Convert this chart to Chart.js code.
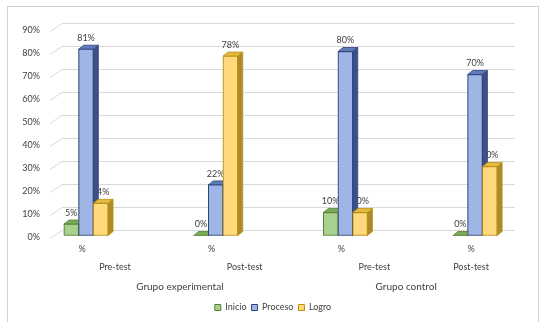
<!DOCTYPE html>
<html>
<head>
<meta charset="utf-8">
<script src="https://cdn.jsdelivr.net/npm/chart.js@4.4.1/dist/chart.umd.min.js"></script>
<style>
  html, body { margin: 0; padding: 0; background: #fff; }
</style>
</head>
<body>
<canvas id="grupochart" width="544" height="322"></canvas>
<script>
// data
var categories = ['Pre-test', 'Post-test', 'Pre-test', 'Post-test'];
var groupNames = ['Grupo experimental', 'Grupo control'];
var unitLabel = '%';
var seriesNames = ['Inicio', 'Proceso', 'Logro'];
var inicio = [5, 0, 10, 0];
var proceso = [81, 22, 80, 70];
var logro = [14, 78, 10, 30];
var yMax = 90;
var yStep = 10;

var textColor = '#404040';
var fontFamily = 'Lato, "Open Sans", sans-serif';

// front / side / top / edge colours for the fake 3D look
var faces = [
  { front: '#a9d18e', side: '#5f8f40', top: '#78a957', edge: '#548235' },
  { front: '#9fb5e5', side: '#3e5089', top: '#6179bd', edge: '#2f4279' },
  { front: '#ffd97c', side: '#ad8a2c', top: '#e5b840', edge: '#b8900f' }
];

var toPoints = function(vals) {
  return vals.map(function(v, i) { return { x: i, y: v }; });
};

// Excel-like outer frame
var framePlugin = {
  id: 'frame',
  beforeDraw: function(chart) {
    var ctx = chart.ctx;
    ctx.save();
    ctx.fillStyle = '#fff';
    ctx.fillRect(0, 0, chart.width, chart.height);
    ctx.strokeStyle = '#d0d0d0';
    ctx.lineWidth = 1;
    ctx.strokeRect(7.5, 6.5, 531, 330);
    ctx.restore();
  }
};

// gridlines on the back wall plus the side wall diagonals
var wallPlugin = {
  id: 'wall',
  beforeDatasetsDraw: function(chart) {
    var ctx = chart.ctx, ys = chart.scales.y, a = chart.chartArea;
    ctx.save();
    ctx.strokeStyle = '#d9d9d9';
    ctx.lineWidth = 1;
    ys.ticks.forEach(function(t) {
      var y = Math.round(ys.getPixelForValue(t.value)) + 0.5;
      ctx.beginPath();
      ctx.moveTo(a.left, y + 2);
      ctx.lineTo(a.left + 12, y - 6);
      ctx.lineTo(a.right, y - 6);
      ctx.stroke();
    });
    ctx.restore();
  }
};

// value labels, then side/top faces, bars painted left to right
var bars3dPlugin = {
  id: 'bars3d',
  afterDatasetsDraw: function(chart) {
    var ctx = chart.ctx;
    var dx = 5, dy = 4;
    var nsets = chart.data.datasets.length;

    ctx.save();
    ctx.font = '9px ' + fontFamily;
    ctx.fillStyle = textColor;
    ctx.textAlign = 'center';
    ctx.textBaseline = 'middle';
    chart.data.datasets.forEach(function(ds, d) {
      chart.getDatasetMeta(d).data.forEach(function(bar, i) {
        ctx.fillText(ds.data[i].y + '%', bar.x, bar.y - 11);
      });
    });
    ctx.restore();

    ctx.save();
    ctx.lineWidth = 0.8;
    for (var i = 0; i < categories.length; i++) {
      for (var d = 0; d < nsets; d++) {
        var bar = chart.getDatasetMeta(d).data[i];
        var p = bar.getProps(['x', 'y', 'base', 'width'], true);
        var l = p.x - p.width / 2, r = p.x + p.width / 2;
        var f = faces[d];
        // side
        ctx.beginPath();
        ctx.moveTo(r, p.y);
        ctx.lineTo(r + dx, p.y - dy);
        ctx.lineTo(r + dx, p.base - dy);
        ctx.lineTo(r, p.base);
        ctx.closePath();
        ctx.fillStyle = f.side;
        ctx.strokeStyle = f.edge;
        ctx.fill();
        ctx.stroke();
        // top
        ctx.beginPath();
        ctx.moveTo(l, p.y);
        ctx.lineTo(l + dx, p.y - dy);
        ctx.lineTo(r + dx, p.y - dy);
        ctx.lineTo(r, p.y);
        ctx.closePath();
        ctx.fillStyle = f.top;
        ctx.fill();
        ctx.stroke();
        // front again so it hides the left neighbour's side
        if (p.base - p.y > 0.5) bar.draw(ctx);
      }
    }
    ctx.restore();
  }
};

// three level category axis: "%", test, group
var axisLabelsPlugin = {
  id: 'axisLabels',
  afterDraw: function(chart) {
    var ctx = chart.ctx, xs = chart.scales.x, a = chart.chartArea;
    var subShift = [29, 29, 29, -4];
    var groupShift = [29, -4];
    ctx.save();
    ctx.fillStyle = textColor;
    ctx.textAlign = 'center';
    ctx.textBaseline = 'middle';
    ctx.font = '9px ' + fontFamily;
    categories.forEach(function(c, i) {
      var x = xs.getPixelForValue(i);
      ctx.fillText(unitLabel, x - 4, a.bottom + 14);
      ctx.fillText(c, x + subShift[i], a.bottom + 32);
    });
    ctx.font = '10px ' + fontFamily;
    groupNames.forEach(function(g, k) {
      var x = (xs.getPixelForValue(k * 2) + xs.getPixelForValue(k * 2 + 1)) / 2;
      ctx.fillText(g, x + groupShift[k], a.bottom + 51);
    });
    ctx.restore();
  }
};

var datasets = [inicio, proceso, logro].map(function(vals, d) {
  return {
    label: seriesNames[d],
    data: toPoints(vals),
    backgroundColor: faces[d].front,
    borderColor: faces[d].edge,
    borderWidth: 1,
    borderSkipped: false,
    barThickness: 14.7
  };
});

var ctx = document.getElementById('grupochart').getContext('2d');
var grupochart = new Chart(ctx, {
  type: 'bar',
  data: { datasets: datasets },
  plugins: [framePlugin, wallPlugin, bars3dPlugin, axisLabelsPlugin],
  options: {
    responsive: false,
    animation: false,
    layout: { padding: { top: 28.5, right: 0, bottom: 0, left: 2 } },
    scales: {
      x: {
        type: 'linear',
        bounds: 'data',
        offset: false,
        min: -0.2776,
        max: 3.308,
        grid: { display: false, drawTicks: false },
        border: { display: false },
        ticks: { display: false },
        afterFit: function(s) { s.height = 62.5; }
      },
      y: {
        min: 0,
        max: yMax,
        grid: { display: false, drawTicks: false },
        border: { display: false },
        ticks: {
          stepSize: yStep,
          padding: 10,
          labelOffset: 2,
          color: textColor,
          font: { family: fontFamily, size: 9 },
          callback: function(v) { return v + '%'; }
        },
        afterFit: function(s) { s.width = 48; }
      },
      // empty right-hand box so the legend stays centred on the whole frame
      yRight: {
        position: 'right',
        grid: { display: false, drawTicks: false },
        border: { display: false },
        ticks: { display: false },
        afterFit: function(s) { s.width = 29; }
      }
    },
    plugins: {
      legend: {
        position: 'bottom',
        labels: {
          boxWidth: 6,
          boxHeight: 6,
          padding: 5,
          color: textColor,
          font: { family: fontFamily, size: 9 }
        }
      },
      tooltip: { enabled: false }
    }
  }
});
</script>
</body>
</html>
